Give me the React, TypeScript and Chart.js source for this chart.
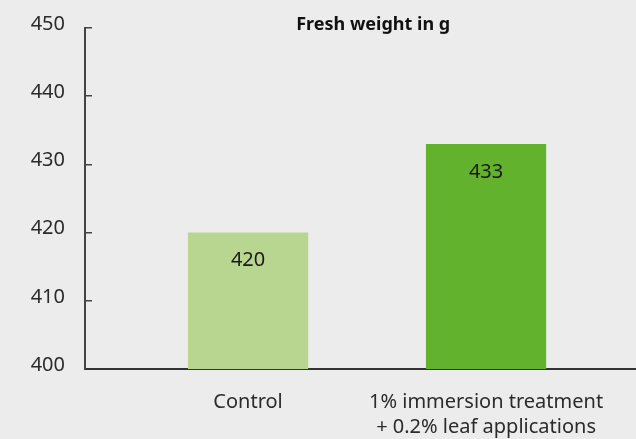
import React, { useEffect, useRef } from "react";
import { Chart, registerables } from "chart.js";

Chart.register(...registerables);

const titleText = "Fresh weight in g";
const categories: string[][] = [["Control"], ["1% immersion treatment", "+ 0.2% leaf applications"]];
const values: number[] = [420, 433];
const barColors: string[] = ["#b8d68f", "#63b22e"];
const yMin = 400;
const yMax = 450;
const yStep = 10;

const valueLabelPlugin = {
  id: "valueLabels",
  afterDatasetsDraw(chart: any) {
    const ctx = chart.ctx;
    const meta = chart.getDatasetMeta(0);
    ctx.save();
    ctx.font = "20px 'Noto Sans'";
    ctx.fillStyle = "#1a1a1a";
    ctx.textAlign = "center";
    ctx.textBaseline = "middle";
    meta.data.forEach((bar: any, i: number) => {
      ctx.fillText(String(values[i]), bar.x, bar.y + 28);
    });
    ctx.restore();
  },
};

const titlePlugin = {
  id: "innerTitle",
  afterDraw(chart: any) {
    const ctx = chart.ctx;
    const area = chart.chartArea;
    ctx.save();
    ctx.font = "bold 18px 'Noto Sans'";
    ctx.fillStyle = "#111111";
    ctx.textAlign = "center";
    ctx.textBaseline = "alphabetic";
    ctx.fillText(titleText, area.left + area.width * 0.523, area.top + 1.5);
    ctx.restore();
  },
};

export default function App() {
  const ref = useRef<HTMLCanvasElement | null>(null);

  useEffect(() => {
    if (!ref.current) return;
    const chart = new Chart(ref.current, {
      type: "bar",
      data: {
        datasets: [
          {
            data: values.map((v, i) => ({ x: i + 1, y: v })),
            backgroundColor: barColors,
            borderWidth: 0,
            categoryPercentage: 1,
            barPercentage: 0.505,
          },
        ],
      },
      options: {
        animation: false,
        responsive: false,
        devicePixelRatio: 1,
        layout: { padding: { top: 28, left: 0, right: 0, bottom: 0 } },
        plugins: {
          legend: { display: false },
          tooltip: { enabled: false },
          title: { display: false },
        },
        scales: {
          x: {
            type: "linear",
            offset: false,
            min: 0.315,
            max: 2.63,
            afterFit: (s: any) => {
              s.height = 70;
              s.paddingLeft = 0;
              s.paddingRight = 0;
            },
            border: { display: true, color: "#333333", width: 2 },
            grid: { drawOnChartArea: false, drawTicks: false },
            ticks: {
              stepSize: 1,
              includeBounds: false,
              padding: 21,
              color: "#2b2b2b",
              font: { family: "'Noto Sans'", size: 20, lineHeight: 1.25 },
              maxRotation: 0,
              autoSkip: false,
              callback: (v: any) => {
                const idx = Number(v) - 1;
                return Number.isInteger(Number(v)) && categories[idx] ? categories[idx] : "";
              },
            },
          },
          y: {
            min: yMin,
            max: yMax,
            afterFit: (s: any) => {
              s.width = 85;
              s.paddingTop = 0;
              s.paddingBottom = 0;
            },
            border: { display: true, color: "#444444", width: 2 },
            grid: {
              drawOnChartArea: false,
              drawTicks: true,
              tickLength: -7,
              color: "#444444",
              lineWidth: 1.5,
            },
            ticks: {
              stepSize: yStep,
              padding: 27,
              labelOffset: -4,
              color: "#2b2b2b",
              font: { family: "'Noto Sans'", size: 20 },
            },
          },
        },
      },
      plugins: [valueLabelPlugin, titlePlugin],
    } as any);
    return () => chart.destroy();
  }, []);

  return (
    <div
      style={{
        position: "fixed",
        left: 0,
        top: 0,
        width: 636,
        height: 439,
        background: "#ececec",
      }}
    >
      <canvas ref={ref} width={636} height={439} style={{ display: "block" }} />
    </div>
  );
}
